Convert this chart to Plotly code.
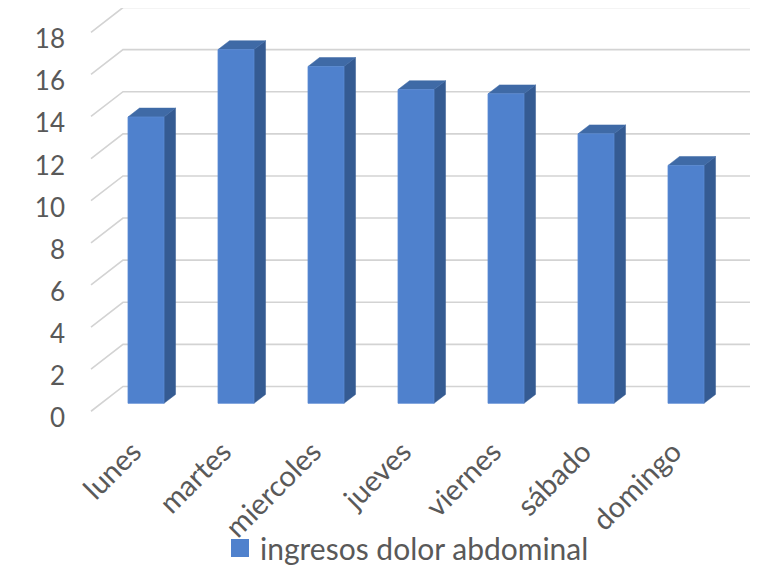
import plotly.graph_objects as go

# ---- data ----
categories = ["lunes", "martes", "miercoles", "jueves", "viernes", "sábado", "domingo"]
values = [13.6, 16.8, 16.0, 14.9, 14.7, 12.8, 11.3]
series_name = "ingresos dolor abdominal"
y_ticks = [0, 2, 4, 6, 8, 10, 12, 14, 16, 18]

# ---- geometry / style (page pixels, page body has an 8px margin) ----
OFF = 8
W, H = 758 - OFF, 574 - OFF
ML, MB = 58, 132
PX_PER_CAT = 90.0
X0_PX = 146.0 - OFF          # first category centre
Y0_PX = 407.0 - OFF          # value 0 on bar front plane
PX_PER_UNIT = 21.25
plot_bottom = H - MB

def px_to_x(px):
    return (px - X0_PX) / PX_PER_CAT

def dpx_to_dy(d):
    return d / PX_PER_UNIT

xr = [px_to_x(ML), px_to_x(W)]
yr = [(Y0_PX - plot_bottom) / PX_PER_UNIT, Y0_PX / PX_PER_UNIT]

DEPTH_DX = 32.0 / PX_PER_CAT
DEPTH_DY = dpx_to_dy(25.0)
F_BAR_FRONT, F_BAR_BACK = 0.32, 0.68
BAR_W = 36.0 / PX_PER_CAT
WALL_LEFT = px_to_x(123 - OFF)
WALL_RIGHT = px_to_x(755 - OFF)
XLABEL_SHIFT = 13.0 / PX_PER_CAT
YLABEL_SHIFT = 0.7

FRONT = "#4F81CD"
SIDE = "#355B92"
TOP = "#3F6AA6"
GRID = "#D3D3D3"
TEXT = "#595959"
FONT = "Lato"

fig = go.Figure()

back_off = (1.0 - F_BAR_FRONT) * DEPTH_DY
front_off = -F_BAR_FRONT * DEPTH_DY
front_left = WALL_LEFT - DEPTH_DX
gx, gy = [], []
for k in y_ticks:
    gx += [front_left, WALL_LEFT, WALL_RIGHT, None]
    gy += [k + front_off, k + back_off, k + back_off, None]
fig.add_trace(go.Scatter(x=gx, y=gy, mode="lines",
                         line=dict(color=GRID, width=1.6),
                         hoverinfo="skip", showlegend=False))

ddx = (F_BAR_BACK - F_BAR_FRONT) * DEPTH_DX
ddy = (F_BAR_BACK - F_BAR_FRONT) * DEPTH_DY

for i, v in enumerate(values):
    xl, xrgt = i - BAR_W / 2, i + BAR_W / 2
    fig.add_trace(go.Scatter(
        x=[xrgt, xrgt + ddx, xrgt + ddx, xrgt, xrgt],
        y=[0, ddy, v + ddy, v, 0],
        fill="toself", fillcolor=SIDE, mode="lines",
        line=dict(color=SIDE, width=0.5), hoverinfo="skip", showlegend=False))
    fig.add_trace(go.Scatter(
        x=[xl, xl + ddx, xrgt + ddx, xrgt, xl],
        y=[v, v + ddy, v + ddy, v, v],
        fill="toself", fillcolor=TOP, mode="lines",
        line=dict(color=TOP, width=0.5), hoverinfo="skip", showlegend=False))
    fig.add_trace(go.Scatter(
        x=[xl, xrgt, xrgt, xl, xl],
        y=[0, 0, v, v, 0],
        fill="toself", fillcolor=FRONT, mode="lines",
        line=dict(color="#5A8AD3", width=0.8),
        name=categories[i], hovertemplate="%{fullData.name}: " + str(v) + "<extra></extra>",
        showlegend=False))

fig.add_trace(go.Scatter(x=[None], y=[None], mode="markers",
                         marker=dict(symbol="square", size=16, color=FRONT,
                                     line=dict(color=FRONT, width=2)),
                         name=series_name, showlegend=True))

LEG_CX = 407 - OFF
LEG_CY = 553 - OFF
fig.update_layout(
    width=W, height=H,
    margin=dict(l=ML, r=0, t=0, b=MB),
    plot_bgcolor="white", paper_bgcolor="white",
    font=dict(family=FONT, size=30, color=TEXT),
    showlegend=True,
    legend=dict(orientation="h", x=(LEG_CX - ML) / (W - ML), xanchor="center",
                y=(plot_bottom - LEG_CY) / plot_bottom, yanchor="middle",
                font=dict(size=30, color=TEXT), itemsizing="trace",
                bgcolor="rgba(0,0,0,0)"),
    xaxis=dict(range=xr, tickmode="array",
               tickvals=[i - XLABEL_SHIFT for i in range(len(categories))],
               ticktext=categories, tickangle=-45, showgrid=False, zeroline=False,
               showline=False, ticks="", fixedrange=True, tickfont=dict(size=29),
               ticklabelstandoff=-10),
    yaxis=dict(range=yr, tickmode="array", tickvals=[k - YLABEL_SHIFT for k in y_ticks],
               ticktext=[str(k) for k in y_ticks], showgrid=False, zeroline=False,
               showline=False, ticks="", fixedrange=True, tickfont=dict(size=26)),
)

fig.write_html("out.html")
